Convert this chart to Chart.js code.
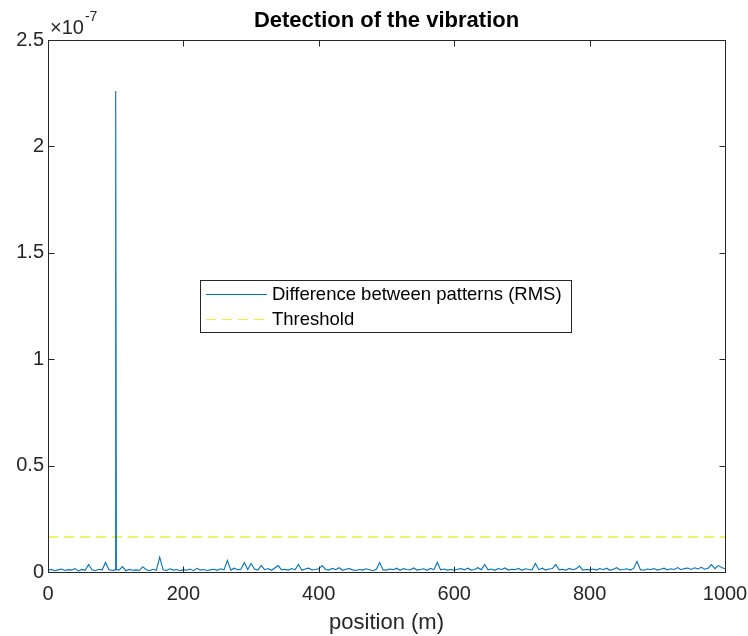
<!DOCTYPE html>
<html>
<head>
<meta charset="utf-8">
<script src="https://cdn.jsdelivr.net/npm/chart.js@4/dist/chart.umd.min.js"></script>
<style>
	body { margin: 0; background: #fff; }
	canvas { display: block; }
</style>
</head>
<body>
<canvas id="chart" width="748" height="636"></canvas>
<script>
// Sample spacing of the RMS trace (m)
const step = 5;

// RMS difference, in units of 1e-7, one value every 5 m from 0 to 1000
const rmsValues = [
	0.008, 0.012, 0.006, 0.010, 0.014, 0.007, 0.011, 0.009, 0.016, 0.005,
	0.012, 0.008, 0.035, 0.010, 0.006, 0.013, 0.009, 0.045, 0.011, 0.007,
	2.26, 0.009, 0.025, 0.006, 0.012, 0.008, 0.010, 0.007, 0.025, 0.011,
	0.006, 0.013, 0.008, 0.070, 0.010, 0.007, 0.015, 0.009, 0.012, 0.006,
	0.011, 0.008, 0.014, 0.006, 0.017, 0.009, 0.012, 0.007, 0.010, 0.013,
	0.008, 0.015, 0.010, 0.055, 0.009, 0.018, 0.011, 0.013, 0.045, 0.012,
	0.040, 0.014, 0.009, 0.030, 0.011, 0.016, 0.008, 0.019, 0.030, 0.010,
	0.013, 0.009, 0.016, 0.011, 0.035, 0.008, 0.014, 0.018, 0.010, 0.012,
	0.015, 0.030, 0.012, 0.009, 0.017, 0.011, 0.020, 0.008, 0.013, 0.016,
	0.010, 0.007, 0.012, 0.009, 0.015, 0.011, 0.006, 0.013, 0.045, 0.010,
	0.009, 0.014, 0.011, 0.018, 0.008, 0.016, 0.012, 0.010, 0.019, 0.009,
	0.012, 0.015, 0.008, 0.017, 0.011, 0.045, 0.010, 0.014, 0.009, 0.012,
	0.008, 0.013, 0.016, 0.010, 0.018, 0.009, 0.012, 0.020, 0.011, 0.035,
	0.010, 0.014, 0.008, 0.016, 0.012, 0.019, 0.009, 0.013, 0.011, 0.017,
	0.008, 0.015, 0.012, 0.010, 0.040, 0.011, 0.018, 0.009, 0.014, 0.016,
	0.035, 0.010, 0.013, 0.008, 0.017, 0.011, 0.015, 0.028, 0.009, 0.012,
	0.010, 0.014, 0.009, 0.016, 0.011, 0.018, 0.008, 0.013, 0.020, 0.010,
	0.012, 0.015, 0.009, 0.017, 0.050, 0.011, 0.008, 0.014, 0.012, 0.016,
	0.009, 0.013, 0.018, 0.010, 0.015, 0.012, 0.021, 0.011, 0.016, 0.019,
	0.012, 0.020, 0.014, 0.022, 0.013, 0.018, 0.035, 0.016, 0.030, 0.021, 0.015
];

// Extra samples right beside the vibration peak at 100 m (keeps the spike narrow)
const peakSidePositions = [99, 101];
const peakSideValues = [0.010, 0.012];

// Detection threshold, in units of 1e-7
const thresholdValue = 0.165;
const thresholdPositions = [0, 1000];

const xTicks = [0, 200, 400, 600, 800, 1000];
const yTicks = [0, 0.5, 1, 1.5, 2, 2.5];

const titleText = "Detection of the vibration";
const xLabel = "position (m)";
const seriesLabels = ["Difference between patterns (RMS)", "Threshold"];

const FONT = "'Liberation Sans', Arial, sans-serif";
const INK = "#262626";
const BLUE = "#0072BD";
const YELLOW = "#eded3a";

// Build the RMS point list
const rmsPoints = rmsValues.map((v, i) => ({ x: i * step, y: v }));
peakSidePositions.forEach((p, i) => rmsPoints.push({ x: p, y: peakSideValues[i] }));
rmsPoints.sort((a, b) => a.x - b.x);

const thresholdPoints = thresholdPositions.map((p) => ({ x: p, y: thresholdValue }));

// MATLAB-like frame, inward ticks, title, exponent and legend
const matlabDecor = {
	id: "matlabDecor",
	afterDraw(chart) {
		const { ctx, chartArea: a, scales } = chart;
		ctx.save();
		ctx.strokeStyle = INK;
		ctx.lineWidth = 1;
		const L = Math.round(a.left) + 0.5, R = Math.round(a.right) + 0.5;
		const T = Math.round(a.top) + 0.5, B = Math.round(a.bottom) + 0.5;
		ctx.strokeRect(L, T, R - L, B - T);

		const tl = 6;
		ctx.beginPath();
		xTicks.forEach((v) => {
			const x = Math.round(scales.x.getPixelForValue(v)) + 0.5;
			ctx.moveTo(x, B); ctx.lineTo(x, B - tl);
			ctx.moveTo(x, T); ctx.lineTo(x, T + tl);
		});
		yTicks.forEach((v) => {
			const y = Math.round(scales.y.getPixelForValue(v)) + 0.5;
			ctx.moveTo(L, y); ctx.lineTo(L + tl, y);
			ctx.moveTo(R, y); ctx.lineTo(R - tl, y);
		});
		ctx.stroke();

		// title
		ctx.fillStyle = "#000";
		ctx.font = "bold 22px " + FONT;
		ctx.textAlign = "center";
		ctx.textBaseline = "alphabetic";
		ctx.fillText(titleText, (a.left + a.right) / 2, 27);

		// exponent label
		ctx.fillStyle = INK;
		ctx.textAlign = "left";
		ctx.font = "20px " + FONT;
		ctx.fillText("\u00d710", 50, 34);
		const w = ctx.measureText("\u00d710").width;
		ctx.font = "14px " + FONT;
		ctx.fillText("-7", 50 + w + 1, 21);

		// legend
		const bx = 200.5, by = 280.5, bw = 371, bh = 52;
		ctx.fillStyle = "#fff";
		ctx.fillRect(bx, by, bw, bh);
		ctx.strokeStyle = INK;
		ctx.strokeRect(bx, by, bw, bh);
		ctx.font = "18.5px " + FONT;
		ctx.textBaseline = "middle";
		ctx.fillStyle = "#000";

		ctx.strokeStyle = BLUE;
		ctx.lineWidth = 1;
		ctx.beginPath();
		ctx.moveTo(206, 294.5); ctx.lineTo(267, 294.5);
		ctx.stroke();
		ctx.fillText(seriesLabels[0], 272, 295);

		ctx.strokeStyle = YELLOW;
		ctx.setLineDash([10, 6]);
		ctx.beginPath();
		ctx.moveTo(206, 319.5); ctx.lineTo(267, 319.5);
		ctx.stroke();
		ctx.setLineDash([]);
		ctx.fillText(seriesLabels[1], 272, 320);
		ctx.restore();
	},
};

new Chart(document.getElementById("chart"), {
	type: "line",
	data: {
		datasets: [
			{
				label: seriesLabels[0],
				data: rmsPoints,
				borderColor: BLUE,
				borderWidth: 1.1,
				pointRadius: 0,
				tension: 0,
				order: 1,
			},
			{
				label: seriesLabels[1],
				data: thresholdPoints,
				borderColor: YELLOW,
				borderWidth: 1.5,
				borderDash: [10, 6],
				pointRadius: 0,
				order: 2,
			},
		],
	},
	options: {
		responsive: false,
		animation: false,
		layout: { padding: { top: 40, right: 23, left: 0, bottom: 0 } },
		scales: {
			x: {
				type: "linear",
				min: 0,
				max: 1000,
				afterBuildTicks: (s) => { s.ticks = xTicks.map((v) => ({ value: v })); },
				afterFit: (s) => {
					s.height = 64;
					s.paddingRight = 0;
					s.paddingLeft = 0;
				},
				grid: { display: false, drawTicks: false },
				border: { display: false },
				ticks: { color: INK, font: { family: FONT, size: 20 }, padding: 10, maxRotation: 0, callback: (v) => String(v) },
				title: { display: true, text: xLabel, color: INK, font: { family: FONT, size: 22 }, padding: { top: 0, bottom: 0 } },
			},
			y: {
				min: 0,
				max: 2.5,
				afterBuildTicks: (s) => { s.ticks = yTicks.map((v) => ({ value: v })); },
				afterFit: (s) => {
					s.width = 48;
					s.paddingTop = 0;
					s.paddingBottom = 0;
				},
				grid: { display: false, drawTicks: false },
				border: { display: false },
				ticks: { color: INK, font: { family: FONT, size: 20 }, padding: 4, callback: (v) => String(v) },
			},
		},
		plugins: {
			legend: { display: false },
			tooltip: { enabled: false },
			title: { display: false },
		},
	},
	plugins: [matlabDecor],
});
</script>
</body>
</html>
